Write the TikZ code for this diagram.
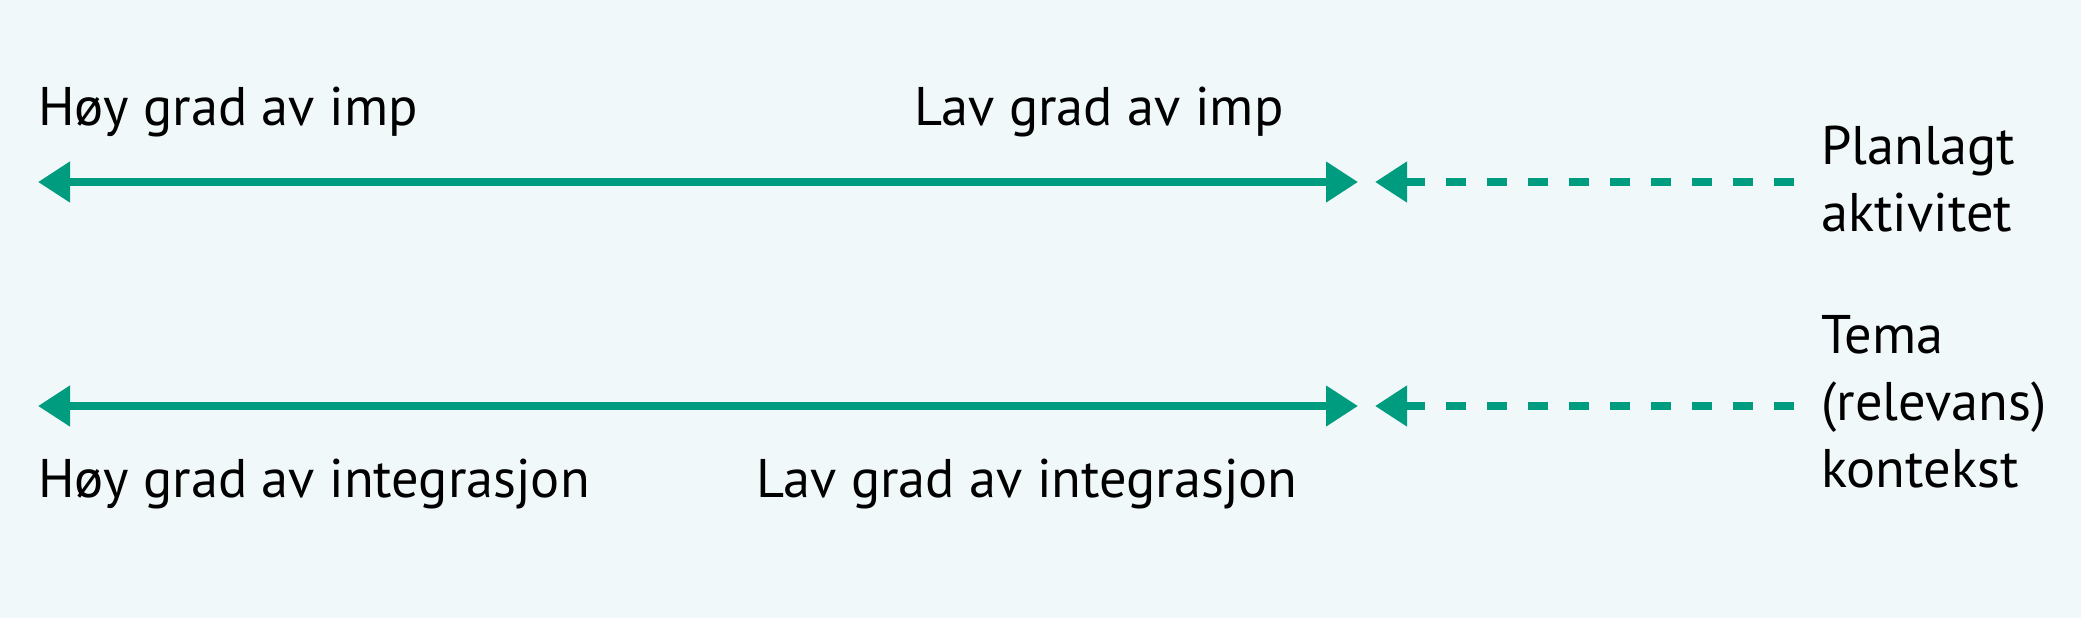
\documentclass[tikz,border=0pt]{standalone}
\usepackage{fontspec}
\setmainfont{PT Sans}
\usepackage{xcolor}
\usetikzlibrary{arrows.meta,positioning}
\definecolor{pilgronn}{RGB}{0,156,128}
\definecolor{bakgrunn}{RGB}{241,248,250}
\begin{document}
\begin{tikzpicture}[x=0.5pt, y=-0.5pt, >={Triangle[length=16pt,width=19.5pt]},
		linje/.style={draw=pilgronn, line width=3.85pt},
		stiplet/.style={linje, dash pattern=on 10pt off 10.5pt},
		tekst/.style={anchor=base west, inner sep=0pt, align=left,
			font=\fontsize{27.2}{33.5}\selectfont}]
		\fill[bakgrunn] (0,0) rectangle (2081,618);
		
		\coordinate (imp venstre) at (38,182); \coordinate (imp hoyre) at (1358,182);
		\coordinate (plan tupp) at (1375,182); \coordinate (plan slutt) at (1794,182);
		\coordinate (int venstre) at (38,406); \coordinate (int hoyre) at (1358,406);
		\coordinate (tema tupp) at (1375,406); \coordinate (tema slutt) at (1794,406);
		
		\draw[linje, <->] (imp venstre) -- (imp hoyre);
		\draw[linje, <->] (int venstre) -- (int hoyre);
		\draw[stiplet, <-] (plan tupp) -- (plan slutt);
		\draw[stiplet, <-] (tema tupp) -- (tema slutt);
		
		% flerlinjede noder: base = siste linje
		\node[tekst] (hoy imp) at (38,125) {Høy grad av imp};
		\node[tekst] (lav imp) at (914,125) {Lav grad av imp};
		\node[tekst] (hoy int) at (38,497) {Høy grad av integrasjon};
		\node[tekst] (lav int) at (756,497) {Lav grad av integrasjon};
		\node[tekst] (planlagt) at (1821,231) {Planlagt\\aktivitet};
		\node[tekst] (tema) at (1821,487) {Tema\\(relevans)\\kontekst};
	\end{tikzpicture}
\end{document}
